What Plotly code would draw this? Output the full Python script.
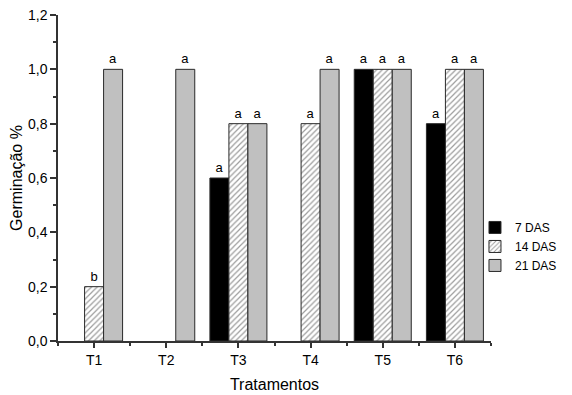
import plotly.graph_objects as go

categories = ["T1", "T2", "T3", "T4", "T5", "T6"]
das7 = [None, None, 0.6, None, 1.0, 0.8]
das14 = [0.2, None, 0.8, 0.8, 1.0, 1.0]
das21 = [1.0, 1.0, 0.8, 1.0, 1.0, 1.0]
lab7 = [None, None, "a", None, "a", "a"]
lab14 = ["b", None, "a", "a", "a", "a"]
lab21 = ["a", "a", "a", "a", "a", "a"]
xpos = list(range(len(categories)))

FONT = "Liberation Sans, Arial, sans-serif"
EDGE = "#2a2a2a"

fig = go.Figure()
fig.add_trace(go.Bar(
    x=xpos, y=das7, name="7 DAS", text=lab7, textposition="outside",
    marker=dict(color="black", line=dict(color=EDGE, width=1)),
    textfont=dict(size=13, color="black", family=FONT), cliponaxis=False,
))
fig.add_trace(go.Bar(
    x=xpos, y=das14, name="14 DAS", text=lab14, textposition="outside",
    marker=dict(color="white", line=dict(color=EDGE, width=1),
                pattern=dict(shape="/", fgcolor="#3a3a3a", bgcolor="white",
                             size=4, solidity=0.3)),
    textfont=dict(size=13, color="black", family=FONT), cliponaxis=False,
))
fig.add_trace(go.Bar(
    x=xpos, y=das21, name="21 DAS", text=lab21, textposition="outside",
    marker=dict(color="#c0c0c0", line=dict(color=EDGE, width=1)),
    textfont=dict(size=13, color="black", family=FONT), cliponaxis=False,
))

# the page body adds an 8px margin; the figure is sized to fill the rest
fig.update_layout(
    width=564, height=387,
    margin=dict(l=50, r=81, t=7, b=54, autoexpand=False),
    paper_bgcolor="white", plot_bgcolor="white",
    barmode="group", bargap=0.21, bargroupgap=0,
    separators=",.",
    font=dict(family=FONT, color="black"),
    legend=dict(x=0.963, y=0.29, xanchor="left", yanchor="middle",
                font=dict(size=12, family=FONT), tracegroupgap=0,
                bgcolor="rgba(0,0,0,0)"),
    showlegend=True,
)
fig.update_xaxes(
    range=[-0.5, 5.5], tickmode="array", tickvals=xpos, ticktext=categories,
    automargin=False,
    showline=True, linecolor="#333333", linewidth=1.5, mirror=False,
    ticks="outside", ticklen=5, tickcolor="#333333", tickwidth=1.5,
    showgrid=False, zeroline=False,
    tickfont=dict(size=14, family=FONT),
    title=dict(text="Tratamentos", font=dict(size=16, family=FONT), standoff=12),
    minor=dict(ticks="outside", ticklen=3, tick0=0.5, dtick=1, tickcolor="#333333",
               tickwidth=1.5, showgrid=False),
)
fig.update_yaxes(
    range=[0, 1.2], tick0=0, dtick=0.2, tickformat=".1f",
    automargin=False, ticklabeloverflow="allow",
    showline=True, linecolor="#333333", linewidth=1.5,
    ticks="outside", ticklen=6, tickcolor="#333333", tickwidth=1.5,
    showgrid=False, zeroline=False,
    tickfont=dict(size=14, family=FONT),
    title=dict(text="Germinação %", font=dict(size=16, family=FONT), standoff=3),
    minor=dict(ticks="outside", ticklen=3, dtick=0.1, tickcolor="#333333",
               tickwidth=1.5, showgrid=False),
)

fig.write_html("out.html")
